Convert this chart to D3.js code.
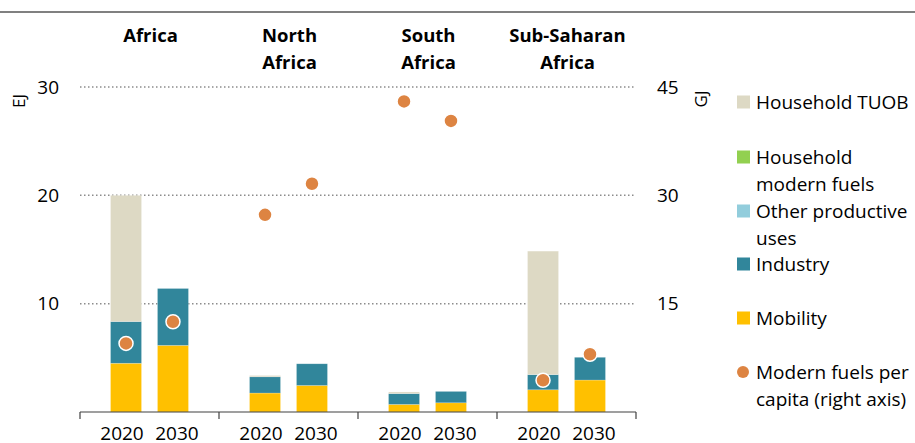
<!DOCTYPE html>
<html>
<head>
<meta charset="utf-8">
<script src="https://cdn.jsdelivr.net/npm/d3@7"></script>
<style>
  body { margin: 0; background: #fff; }
  svg text { font-family: "Open Sans", "Noto Sans", sans-serif; fill: #000; }
</style>
</head>
<body>
<div id="root"></div>
<script>
'use strict';

// data
var regions = ['Africa', 'North Africa', 'South Africa', 'Sub-Saharan Africa'];
var regionLines = [['Africa'], ['North', 'Africa'], ['South', 'Africa'], ['Sub-Saharan', 'Africa']];
var years = ['2020', '2030'];
var seriesNames = ['Mobility', 'Industry', 'Other productive uses', 'Household modern fuels', 'Household TUOB'];
// one value per region-year: Africa 2020, Africa 2030, North Africa 2020, ...
var mobility = [4.5, 6.15, 1.75, 2.45, 0.7, 0.85, 2.05, 2.95];
var industry = [3.85, 5.25, 1.5, 2.0, 1.0, 1.05, 1.4, 2.1];
var otherProductive = [0, 0, 0, 0, 0, 0, 0, 0];
var householdModern = [0, 0, 0, 0, 0, 0, 0, 0];
var householdTuob = [11.65, 0, 0.12, 0, 0.15, 0, 11.4, 0];
var perCapita = [9.5, 12.5, 27.3, 31.6, 43.0, 40.3, 4.4, 8.0];
var leftTicks = [10, 20, 30];
var rightTicks = [15, 30, 45];

var colors = {
  'Mobility': '#ffc000',
  'Industry': '#31869b',
  'Other productive uses': '#92cddc',
  'Household modern fuels': '#92d050',
  'Household TUOB': '#ddd9c4'
};
var dotColor = '#dd8442';

var width = 915;
var height = 443;
var margin = { left: 80, right: 279, top: 87, bottom: 31 };
var plotRight = width - margin.right;
var baseY = height - margin.bottom;

var svg = d3.select('#root')
  .append('svg')
  .attr('width', width)
  .attr('height', height);

// top rule
svg.append('line')
  .attr('x1', 0).attr('x2', width)
  .attr('y1', 12).attr('y2', 12)
  .attr('stroke', '#808080')
  .attr('stroke-width', 2);

var x0 = d3.scaleBand()
  .domain(regions)
  .range([margin.left, plotRight])
  .padding(0);

var x1 = d3.scaleBand()
  .domain(years)
  .range([0, x0.bandwidth()])
  .paddingInner(0.34)
  .paddingOuter(0.65);

var y = d3.scaleLinear().domain([0, 30]).range([baseY, margin.top]);
var yRight = d3.scaleLinear().domain([0, 45]).range([baseY, margin.top]);

// dotted gridlines
svg.append('g')
  .selectAll('line')
  .data(leftTicks)
  .join('line')
  .attr('x1', margin.left).attr('x2', plotRight)
  .attr('y1', d => y(d)).attr('y2', d => y(d))
  .attr('stroke', '#8c8c8c')
  .attr('stroke-width', 1.5)
  .attr('stroke-dasharray', '1.5 2.5');

// left axis labels
svg.append('g')
  .selectAll('text')
  .data(leftTicks)
  .join('text')
  .attr('x', 59)
  .attr('y', d => y(d))
  .attr('dy', '0.35em')
  .attr('text-anchor', 'end')
  .style('font-size', '19px')
  .text(d => d);

svg.append('text')
  .attr('transform', 'translate(25,101) rotate(-90)')
  .attr('text-anchor', 'middle')
  .style('font-size', '17px')
  .text('EJ');

// right axis labels
svg.append('g')
  .selectAll('text')
  .data(rightTicks)
  .join('text')
  .attr('x', 657)
  .attr('y', d => yRight(d))
  .attr('dy', '0.35em')
  .attr('text-anchor', 'start')
  .style('font-size', '19px')
  .text(d => d);

svg.append('text')
  .attr('transform', 'translate(707,99) rotate(-90)')
  .attr('text-anchor', 'middle')
  .style('font-size', '17px')
  .text('GJ');

// build rows
var rows = [];
regions.forEach(function(r, ri) {
  years.forEach(function(yr, yi) {
    var k = ri * years.length + yi;
    var vals = {
      'Mobility': mobility[k],
      'Industry': industry[k],
      'Other productive uses': otherProductive[k],
      'Household modern fuels': householdModern[k],
      'Household TUOB': householdTuob[k]
    };
    rows.push(Object.assign({ region: r, year: yr, perCapita: perCapita[k] }, vals));
  });
});

var stacked = d3.stack().keys(seriesNames)(rows);

svg.append('g')
  .selectAll('g')
  .data(stacked)
  .join('g')
  .attr('fill', d => colors[d.key])
  .selectAll('rect')
  .data(d => d)
  .join('rect')
  .attr('x', d => x0(d.data.region) + x1(d.data.year))
  .attr('width', x1.bandwidth())
  .attr('y', d => y(d[1]))
  .attr('height', d => y(d[0]) - y(d[1]))
  .attr('stroke', 'rgba(255,255,255,0.35)')
  .attr('stroke-width', 0.6);

// per-capita dots (right axis)
svg.append('g')
  .selectAll('circle')
  .data(rows)
  .join('circle')
  .attr('cx', d => x0(d.region) + x1(d.year) + x1.bandwidth() / 2)
  .attr('cy', d => yRight(d.perCapita))
  .attr('r', 7)
  .attr('fill', dotColor)
  .attr('stroke', '#fff')
  .attr('stroke-width', 1.5);

// baseline + group separators
svg.append('line')
  .attr('x1', margin.left).attr('x2', plotRight)
  .attr('y1', baseY).attr('y2', baseY)
  .attr('stroke', '#404040')
  .attr('stroke-width', 1.2);

var seps = regions.map(r => x0(r)).concat([plotRight]);
svg.append('g')
  .selectAll('line')
  .data(seps)
  .join('line')
  .attr('x1', d => d).attr('x2', d => d)
  .attr('y1', baseY).attr('y2', baseY + 7)
  .attr('stroke', '#404040')
  .attr('stroke-width', 1.2);

// year labels
svg.append('g')
  .selectAll('text')
  .data(rows)
  .join('text')
  .attr('x', d => x0(d.region) + x1(d.year) + x1.bandwidth() / 2 + (d.year === '2020' ? -4 : 4))
  .attr('y', baseY + 28)
  .attr('text-anchor', 'middle')
  .style('font-size', '19px')
  .text(d => d.year);

// region titles
var titles = svg.append('g')
  .selectAll('text')
  .data(regions)
  .join('text')
  .attr('x', d => x0(d) + x0.bandwidth() / 2 + 1)
  .attr('y', 42)
  .attr('text-anchor', 'middle')
  .style('font-size', '18.5px')
  .style('font-weight', 'bold');

titles.selectAll('tspan')
  .data((d, i) => regionLines[i])
  .join('tspan')
  .attr('x', function() { return d3.select(this.parentNode).attr('x'); })
  .attr('dy', (d, i) => i === 0 ? 0 : 27)
  .text(d => d);

// legend
var legendItems = [
  { key: 'Household TUOB', lines: ['Household TUOB'], y: 102 },
  { key: 'Household modern fuels', lines: ['Household', 'modern fuels'], y: 157 },
  { key: 'Other productive uses', lines: ['Other productive', 'uses'], y: 211 },
  { key: 'Industry', lines: ['Industry'], y: 264 },
  { key: 'Mobility', lines: ['Mobility'], y: 318 },
  { key: 'dot', lines: ['Modern fuels per', 'capita (right axis)'], y: 372 }
];

var legend = svg.append('g')
  .selectAll('g')
  .data(legendItems)
  .join('g')
  .attr('transform', d => `translate(737,${d.y})`);

legend.filter(d => d.key !== 'dot')
  .append('rect')
  .attr('x', 0).attr('y', -6.5)
  .attr('width', 13).attr('height', 13)
  .attr('fill', d => colors[d.key]);

legend.filter(d => d.key === 'dot')
  .append('circle')
  .attr('cx', 6).attr('cy', 0)
  .attr('r', 6)
  .attr('fill', dotColor);

legend.append('text')
  .attr('x', 19)
  .attr('y', 0)
  .style('font-size', '19px')
  .selectAll('tspan')
  .data(d => d.lines)
  .join('tspan')
  .attr('x', 19)
  .attr('dy', (d, i) => i === 0 ? '0.35em' : 27)
  .text(d => d);
</script>
</body>
</html>
